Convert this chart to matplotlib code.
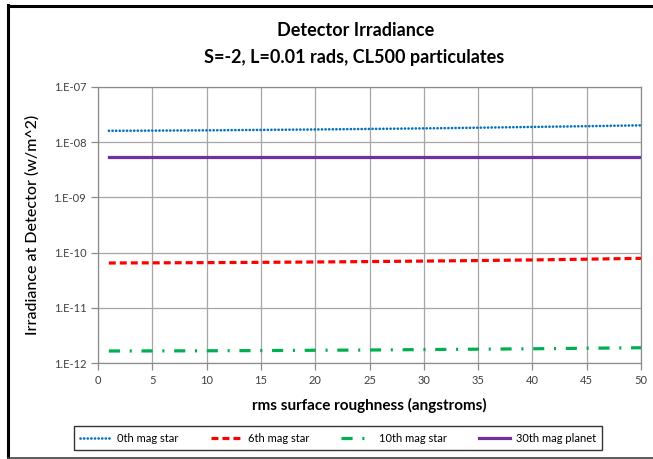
import numpy as np
import matplotlib
matplotlib.use('Agg')
from matplotlib import pyplot as plt
from matplotlib.lines import Line2D
from matplotlib.ticker import FixedLocator, FuncFormatter, NullLocator

plt.rcParams['font.family'] = ['Lato', 'DejaVu Sans']
plt.rcParams['lines.scale_dashes'] = False

# rms surface roughness (angstroms)
roughness = [1, 5, 10, 15, 20, 25, 30, 35, 40, 45, 50]

# irradiance at detector (w/m^2)
mag0_star = [1.61e-8, 1.62e-8, 1.64e-8, 1.67e-8, 1.70e-8, 1.74e-8,
             1.78e-8, 1.83e-8, 1.89e-8, 1.95e-8, 2.02e-8]
mag6_star = [6.48e-11, 6.52e-11, 6.58e-11, 6.66e-11, 6.76e-11, 6.88e-11,
             7.02e-11, 7.18e-11, 7.37e-11, 7.60e-11, 7.88e-11]
mag10_star = [1.65e-12, 1.655e-12, 1.665e-12, 1.68e-12, 1.70e-12, 1.72e-12,
              1.75e-12, 1.78e-12, 1.81e-12, 1.85e-12, 1.89e-12]
mag30_planet = [5.45e-9] * len(roughness)

labels = ['0th mag star', '6th mag star', '10th mag star', '30th mag planet']
x_ticks = list(range(0, 51, 5))
y_ticks = [1e-12, 1e-11, 1e-10, 1e-9, 1e-8, 1e-7]

W, H = 653, 459
fig = plt.figure(figsize=(W / 100, H / 100), dpi=100)
ax = fig.add_axes([98 / W, 1 - 363 / H, (641 - 98) / W, (363 - 87) / H])

ax.plot(roughness, mag0_star, color='#0070C0', lw=1.9, dashes=(0.1, 2.5),
        dash_capstyle='round', label=labels[0], zorder=3)
ax.plot(roughness, mag6_star, color='#FF0000', lw=2.3, dashes=(5.0, 2.9),
        label=labels[1], zorder=3)
ax.plot(roughness, mag10_star, color='#00B050', lw=2.3, dashes=(8, 7, 1.5, 7),
        label=labels[2], zorder=3)
ax.plot(roughness, mag30_planet, color='#7030A0', lw=2.3,
        label=labels[3], zorder=3)

ax.set_yscale('log')
ax.set_xlim(0, 50)
ax.set_ylim(1e-12, 1e-7)
ax.xaxis.set_major_locator(FixedLocator(x_ticks))
ax.yaxis.set_major_locator(FixedLocator(y_ticks))
ax.yaxis.set_minor_locator(NullLocator())
ax.yaxis.set_major_formatter(FuncFormatter(lambda v, p: '1.E%03d' % int(round(np.log10(v)))))
ax.grid(True, color='#a6a6a6', lw=0.9)
ax.set_axisbelow(True)
for s in ax.spines.values():
    s.set_color('#8c8c8c')
    s.set_linewidth(0.9)
ax.tick_params(axis='both', which='major', length=5, width=0.9, color='#8c8c8c',
               labelsize=8, labelcolor='#404040', direction='out')
ax.tick_params(axis='x', pad=4)

ax.set_xlabel('rms surface roughness (angstroms)', fontsize=11, fontweight='bold',
              labelpad=8)
ax.set_ylabel('Irradiance at Detector (w/m^2)', fontsize=11.5, fontweight='medium',
              labelpad=10)

fig.text(356 / W, 1 - 30 / H, 'Detector Irradiance', ha='center', va='center',
         fontsize=13, fontweight='bold')
fig.text(354 / W, 1 - 58 / H, 'S=-2, L=0.01 rads, CL500 particulates', ha='center',
         va='center', fontsize=13, fontweight='bold')

leg = fig.legend(loc='center', bbox_to_anchor=(338 / W, 1 - 438 / H), ncol=4,
                 fontsize=8, frameon=True, fancybox=False, handlelength=2.8,
                 columnspacing=2.9, handletextpad=0.55, borderpad=0.55,
                 borderaxespad=0)
leg.get_frame().set_edgecolor('black')
leg.get_frame().set_linewidth(1.0)

# chart area border
fig.add_artist(Line2D([8 / W, 1], [1 - 5.5 / H, 1 - 5.5 / H], color='black', lw=2.2,
                      transform=fig.transFigure))
fig.add_artist(Line2D([8 / W, 8 / W], [1 - 5 / H, 1 - 457.5 / H], color='black', lw=2.2,
                      transform=fig.transFigure))
fig.add_artist(Line2D([8 / W, 1], [1 - 457.5 / H, 1 - 457.5 / H], color='#404040', lw=1.2,
                      transform=fig.transFigure))

fig.savefig('out.png', dpi=100)
